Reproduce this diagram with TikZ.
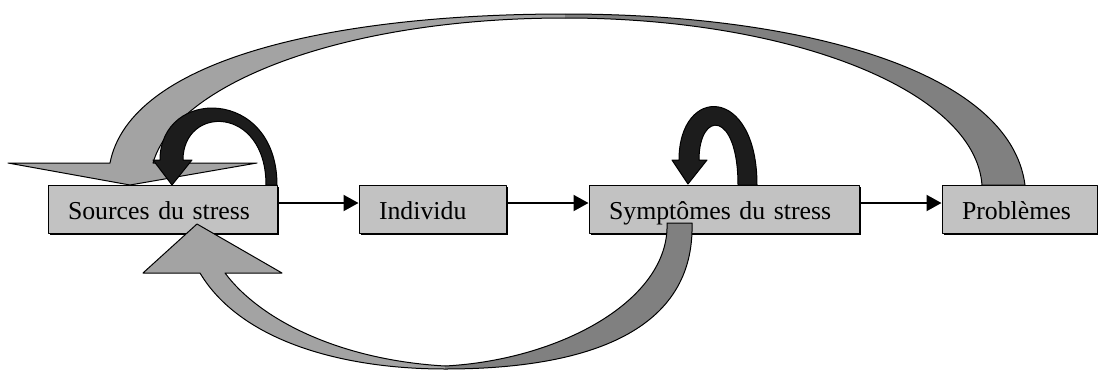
\documentclass[tikz,border=0pt]{standalone}
\usepackage{fontspec}
\setmainfont{Liberation Serif}
\usetikzlibrary{arrows.meta,shadows}
\definecolor{boxgray}{RGB}{194,194,194}
\definecolor{lightarc}{RGB}{163,163,163}
\definecolor{darkarc}{RGB}{128,128,128}
\definecolor{loopblack}{RGB}{28,28,28}
\begin{document}
\begin{tikzpicture}[x=1pt,y=-1pt,line join=round,
  box/.style={draw=black, line width=1pt, fill=boxgray, minimum height=48pt,
    inner xsep=20pt, inner ysep=0pt, text height=22pt, text depth=1pt,
    align=left, font=\fontsize{25.8}{30}\selectfont,
    drop shadow={shadow xshift=2pt, shadow yshift=-2pt, fill=black, opacity=1}},
  conn/.style={line width=2pt, -{Triangle[length=15pt,width=16pt]}},
  ribbon/.style={draw=black, line width=1pt},
  loopy/.style={fill=loopblack, draw=black, line width=1pt}]
\useasboundingbox (0,0) rectangle (1098,370);

% boxes
\node[box, text width=189pt] (src)  at (162.5,209) {Sources du stress};
\node[box, text width=107pt] (ind)  at (432.5,209) {Individu};
\node[box, text width=230pt] (sym)  at (724,209)   {Symptômes du stress};
\node[box, text width=115pt] (prob) at (1019.5,209) {Problèmes};

% connectors
\draw[conn] ([yshift=6pt]src.east) -- ([yshift=6pt]ind.west);
\draw[conn] ([yshift=6pt]ind.east) -- ([yshift=6pt]sym.west);
\draw[conn] ([yshift=6pt]sym.east) -- ([yshift=6pt]prob.west);

% big top curved arrow (Problèmes -> Sources)
\path[ribbon, fill=lightarc]
  (565,14) .. controls (330,14) and (130,60) .. (110,163)
  -- (8,163) -- (130,185) -- (257,163) -- (153,163)
  .. controls (175,85) and (340,18) .. (565,18);
\path[ribbon, fill=darkarc]
  (565,18) .. controls (790,18) and (975,90) .. (982,185)
  -- (1025,185) .. controls (1010,70) and (800,14) .. (565,14);

% bottom curved arrow (Symptômes -> Sources)
\path[ribbon, fill=lightarc]
  (445,369) .. controls (340,369) and (240,340) .. (200,273)
  -- (143,273) -- (197,224) -- (282,273) -- (225,273)
  .. controls (260,320) and (340,360) .. (445,366);
\path[ribbon, fill=darkarc]
  (445,366) .. controls (560,360) and (670,300) .. (667,223)
  -- (692,223) .. controls (695,330) and (590,369) .. (445,369);

% black self loops
\path[loopy]
  (266,185) .. controls (266,105) and (183,105) .. (183,160)
  -- (192,160) -- (172,185) -- (153,160) -- (160,160)
  .. controls (160,87) and (277,87) .. (277,185) -- cycle;
\path[loopy]
  (738,185) .. controls (738,110) and (699,110) .. (699,160)
  -- (707,160) -- (688,184) -- (672,160) -- (679,160)
  .. controls (679,85) and (757,85) .. (757,185) -- cycle;
\end{tikzpicture}
\end{document}
